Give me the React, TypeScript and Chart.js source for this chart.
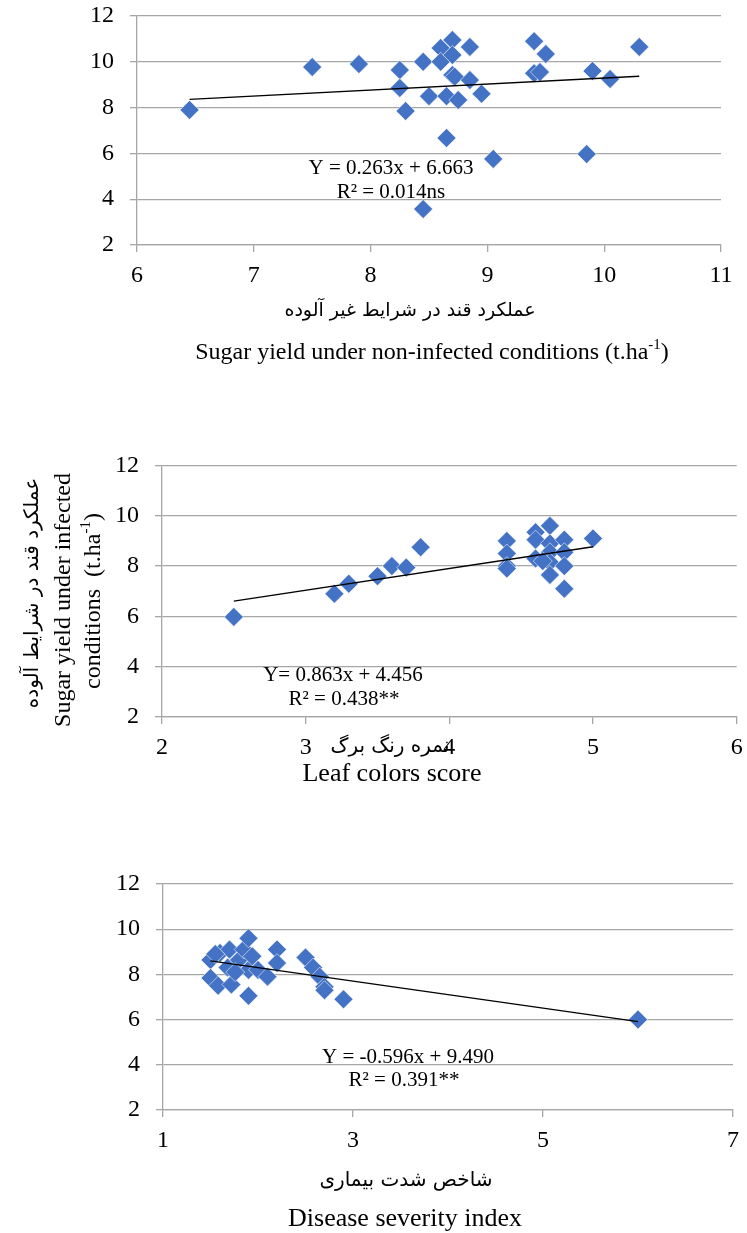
import React, { useEffect, useRef } from "react";
import { Chart, registerables } from "chart.js";
Chart.register(...registerables);

const W = 747;
const SERIF = "'Liberation Serif', 'Times New Roman', serif";
const PERSIAN = "'DejaVu Sans', sans-serif";
const GRID = "#a6a6a6";
const MARK = "#4472C4";

// ---- Chart 1: sugar yield under non-infected conditions ----
const c1X = [6.45, 7.5, 7.9, 8.25, 8.25, 8.3, 8.45, 8.5, 8.45, 8.6, 8.6, 8.65, 8.65, 8.7, 8.7, 8.7, 8.72, 8.85, 8.85, 8.75, 8.95, 9.05, 9.4, 9.5, 9.4, 9.45, 9.9, 10.05, 10.3, 9.85];
const c1Y = [7.9, 9.77, 9.9, 9.64, 8.86, 7.85, 10.0, 8.5, 3.57, 10.6, 10.0, 6.67, 8.5, 10.95, 10.3, 9.42, 9.35, 10.65, 9.2, 8.33, 8.6, 5.76, 10.9, 10.34, 9.5, 9.55, 9.6, 9.25, 10.65, 5.97];
const c1TrendX = [6.45, 10.3];
const c1TrendY = [8.36, 9.37];
const c1XTicks = [6, 11, 1];

// ---- Chart 2: leaf colors score ----
const c2X = [2.5, 3.2, 3.3, 3.5, 3.6, 3.7, 3.8, 4.4, 4.4, 4.4, 4.4, 4.6, 4.6, 4.6, 4.7, 4.7, 4.7, 4.7, 4.7, 4.8, 4.8, 4.8, 4.8, 5.0, 4.65];
const c2Y = [5.98, 6.9, 7.3, 7.6, 8.0, 7.94, 8.75, 9.0, 8.5, 8.0, 7.9, 9.35, 9.05, 8.3, 9.6, 8.9, 8.55, 8.15, 7.65, 9.05, 8.55, 8.0, 7.1, 9.1, 8.2];
const c2TrendX = [2.5, 5.0];
const c2TrendY = [6.61, 8.77];
const c2XTicks = [2, 6, 1];

// ---- Chart 3: disease severity index ----
const c3X = [1.5, 1.5, 1.58, 1.6, 1.7, 1.72, 1.68, 1.8, 1.85, 1.9, 1.9, 1.9, 1.94, 2.0, 2.1, 2.2, 2.2, 2.5, 2.58, 2.65, 2.7, 2.7, 2.9, 6.0, 1.76, 1.55];
const c3Y = [8.64, 7.84, 7.5, 8.95, 9.1, 7.55, 8.3, 8.64, 9.1, 9.6, 7.05, 8.2, 8.8, 8.2, 7.9, 9.1, 8.5, 8.75, 8.3, 7.9, 7.45, 7.3, 6.9, 6.0, 8.1, 8.9];
const c3TrendX = [1.5, 6.0];
const c3TrendY = [8.6, 5.91];
const c3XTicks = [1, 7, 2];

const yTicks = [2, 12, 2];

type Seg = { t: string; sup?: boolean };
type TextItem = { segs: Seg[]; x: number; y: number; size: number; family: string; rotate?: boolean };

function drawText(ctx: CanvasRenderingContext2D, item: TextItem, top: number) {
  ctx.save();
  ctx.translate(item.x, item.y - top);
  if (item.rotate) ctx.rotate(-Math.PI / 2);
  ctx.fillStyle = "#000";
  ctx.textBaseline = "middle";
  ctx.textAlign = "left";
  const fonts = item.segs.map((s) => `${s.sup ? Math.round(item.size * 0.62) : item.size}px ${item.family}`);
  let total = 0;
  const widths = item.segs.map((s, i) => {
    ctx.font = fonts[i];
    const w = ctx.measureText(s.t).width;
    total += w;
    return w;
  });
  let cx = -total / 2;
  item.segs.forEach((s, i) => {
    ctx.font = fonts[i];
    ctx.fillText(s.t, cx, s.sup ? -item.size * 0.32 : 0);
    cx += widths[i];
  });
  ctx.restore();
}

type Spec = {
  top: number;
  height: number;
  area: { left: number; right: number; top: number; bottom: number };
  xs: number[];
  ys: number[];
  tx: number[];
  ty: number[];
  xTicks: number[];
  texts: TextItem[];
};

const t = (s: string): Seg[] => [{ t: s }];

const specs: Spec[] = [
  {
    top: 0,
    height: 390,
    area: { left: 137, right: 721, top: 16, bottom: 245 },
    xs: c1X,
    ys: c1Y,
    tx: c1TrendX,
    ty: c1TrendY,
    xTicks: c1XTicks,
    texts: [
      { segs: t("Y = 0.263x + 6.663"), x: 391, y: 168, size: 21, family: SERIF },
      { segs: t("R² = 0.014ns"), x: 391, y: 192, size: 21, family: SERIF },
      { segs: t("عملکرد قند در شرایط غیر آلوده"), x: 410, y: 311, size: 19, family: PERSIAN },
      {
        segs: [{ t: "Sugar yield under non-infected conditions (t.ha" }, { t: "-1", sup: true }, { t: ")" }],
        x: 432, y: 353, size: 24, family: SERIF,
      },
    ],
  },
  {
    top: 420,
    height: 380,
    area: { left: 162, right: 738, top: 45.5, bottom: 297 },
    xs: c2X,
    ys: c2Y,
    tx: c2TrendX,
    ty: c2TrendY,
    xTicks: c2XTicks,
    texts: [
      { segs: t("Y= 0.863x + 4.456"), x: 343, y: 675, size: 21, family: SERIF },
      { segs: t("R² = 0.438**"), x: 344, y: 699, size: 21, family: SERIF },
      { segs: t("نمره رنگ برگ"), x: 390, y: 747, size: 20, family: PERSIAN },
      { segs: t("Leaf colors score"), x: 392, y: 774, size: 26, family: SERIF },
      { segs: t("عملکرد قند در شرایط آلوده"), x: 33, y: 593, size: 20, family: PERSIAN, rotate: true },
      { segs: t("Sugar yield under infected"), x: 64, y: 600, size: 24, family: SERIF, rotate: true },
      {
        segs: [{ t: "conditions  (t.ha" }, { t: "-1", sup: true }, { t: ")" }],
        x: 94, y: 601, size: 24, family: SERIF, rotate: true,
      },
    ],
  },
  {
    top: 840,
    height: 393,
    area: { left: 163, right: 733, top: 44, bottom: 270 },
    xs: c3X,
    ys: c3Y,
    tx: c3TrendX,
    ty: c3TrendY,
    xTicks: c3XTicks,
    texts: [
      { segs: t("Y = -0.596x + 9.490"), x: 408, y: 1057, size: 21, family: SERIF },
      { segs: t("R² = 0.391**"), x: 404, y: 1080, size: 21, family: SERIF },
      { segs: t("شاخص شدت بیماری"), x: 406, y: 1181, size: 20, family: PERSIAN },
      { segs: t("Disease severity index"), x: 405, y: 1219, size: 26, family: SERIF },
    ],
  },
];

function Panel({ spec }: { spec: Spec }) {
  const ref = useRef<HTMLCanvasElement>(null);
  useEffect(() => {
    const canvas = ref.current!;
    const tickFont = { family: SERIF, size: 24 };
    const textPlugin = {
      id: "texts",
      afterDraw(chart: any) {
        const ctx = chart.ctx as CanvasRenderingContext2D;
        spec.texts.forEach((it) => drawText(ctx, it, spec.top));
      },
    };
    const chart = new Chart(canvas, {
      type: "scatter",
      data: {
        datasets: [
          {
            data: spec.tx.map((x, i) => ({ x, y: spec.ty[i] })),
            showLine: true,
            borderColor: "#000",
            borderWidth: 1.3,
            pointRadius: 0,
            fill: false,
          } as any,
          {
            data: spec.xs.map((x, i) => ({ x, y: spec.ys[i] })),
            pointStyle: "rectRot",
            pointRadius: 9.5,
            pointBackgroundColor: MARK,
            pointBorderColor: "rgba(255,255,255,0.7)",
            pointBorderWidth: 0.8,
            showLine: false,
          } as any,
        ],
      },
      options: {
        responsive: false,
        animation: false,
        devicePixelRatio: 1,
        layout: {
          padding: { left: 0, top: spec.area.top, right: W - spec.area.right, bottom: 0 },
        },
        plugins: { legend: { display: false }, tooltip: { enabled: false } },
        scales: {
          x: {
            type: "linear",
            min: spec.xTicks[0],
            max: spec.xTicks[1],
            ticks: { stepSize: spec.xTicks[2], font: tickFont, color: "#000", padding: 9, maxRotation: 0 },
            grid: { drawOnChartArea: false, drawTicks: true, tickLength: 7, color: GRID, lineWidth: 1.3 },
            border: { display: true, color: GRID, width: 1.3 },
            afterFit: (s: any) => {
              s.height = spec.height - spec.area.bottom;
              s.paddingLeft = 0;
              s.paddingRight = 0;
            },
          },
          y: {
            type: "linear",
            min: yTicks[0],
            max: yTicks[1],
            ticks: { stepSize: yTicks[2], font: tickFont, color: "#000", padding: 16 },
            grid: { drawTicks: true, tickLength: 7, color: GRID, lineWidth: 1.3 },
            border: { display: true, color: GRID, width: 1.3 },
            afterFit: (s: any) => {
              s.width = spec.area.left;
              s.paddingTop = 0;
              s.paddingBottom = 0;
            },
          },
        },
      },
      plugins: [textPlugin],
    } as any);
    return () => chart.destroy();
  }, []);
  return (
    <canvas
      ref={ref}
      width={W}
      height={spec.height}
      style={{ position: "absolute", left: 0, top: spec.top, width: W, height: spec.height, display: "block" }}
    />
  );
}

export default function App() {
  return (
    <div style={{ position: "absolute", left: 0, top: 0, width: W, height: 1233, background: "#fff" }}>
      {specs.map((s, i) => (
        <Panel key={i} spec={s} />
      ))}
    </div>
  );
}
